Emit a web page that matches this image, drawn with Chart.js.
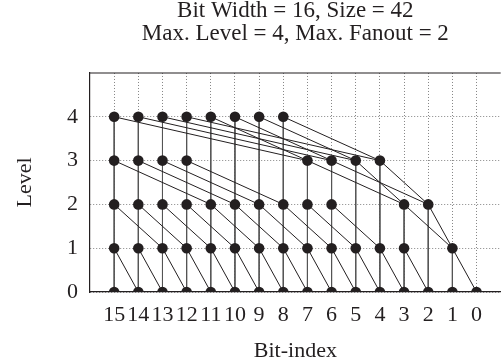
<!DOCTYPE html>
<html>
<head>
<meta charset="utf-8">
<script src="https://cdn.jsdelivr.net/npm/chart.js@4.4.1/dist/chart.umd.min.js"></script>
<style>
  html, body { margin: 0; padding: 0; background: #fff; overflow: hidden; width: 501px; height: 362px; }
  #wrap { width: 506px; height: 362px; }
</style>
</head>
<body>
<div id="wrap"><canvas id="prefixChart" width="506" height="362"></canvas></div>
<script>
const bitIndex = [15, 14, 13, 12, 11, 10, 9, 8, 7, 6, 5, 4, 3, 2, 1, 0];
const levelTicks = [0, 1, 2, 3, 4];

// bits that have a node on each level (level 0 = inputs)
const level0Bits = [15, 14, 13, 12, 11, 10, 9, 8, 7, 6, 5, 4, 3, 2, 1, 0];
const level1Bits = [15, 14, 13, 12, 11, 10, 9, 8, 7, 6, 5, 4, 3, 1];
const level2Bits = [15, 14, 13, 12, 11, 10, 9, 8, 7, 6, 3, 2];
const level3Bits = [15, 14, 13, 12, 7, 6, 5, 4];
const level4Bits = [15, 14, 13, 12, 11, 10, 9, 8];

// diagonal fan-in of each node, [bit, level], same order as the bits above
const level1From = [[14, 0], [13, 0], [12, 0], [11, 0], [10, 0], [9, 0], [8, 0], [7, 0], [6, 0], [5, 0], [4, 0], [3, 0], [2, 0], [0, 0]];
const level2From = [[13, 1], [12, 1], [11, 1], [10, 1], [9, 1], [8, 1], [7, 1], [6, 1], [5, 1], [4, 1], [1, 1], [1, 1]];
const level3From = [[11, 2], [10, 2], [9, 2], [8, 2], [3, 2], [2, 2], [3, 2], [2, 2]];
const level4From = [[7, 3], [6, 3], [5, 3], [4, 3], [7, 3], [6, 3], [5, 3], [4, 3]];

const titleLines = ["Bit Width = 16, Size = 42", "Max. Level = 4, Max. Fanout = 2"];

const levelBits = [level0Bits, level1Bits, level2Bits, level3Bits, level4Bits];
const levelFrom = [[], level1From, level2From, level3From, level4From];

const ink = "#231f20";
const serif = "'Liberation Serif', 'Times New Roman', serif";

const nodes = [];
const edgeSets = [];

levelBits.forEach((bits, level) => {
  bits.forEach((bit, i) => {
    nodes.push({ x: bit, y: level });
    if (level === 0) return;

    // vertical link down to the nearest node in the same column
    let below = level - 1;
    while (below > 0 && !levelBits[below].includes(bit)) below--;
    edgeSets.push({
      data: [{ x: bit, y: level }, { x: bit, y: below }],
      showLine: true,
      pointRadius: 0,
      borderColor: "#555555",
      borderWidth: 1,
      order: 2
    });

    const from = levelFrom[level][i];
    edgeSets.push({
      data: [{ x: bit, y: level }, { x: from[0], y: from[1] }],
      showLine: true,
      pointRadius: 0,
      borderColor: ink,
      borderWidth: 1,
      order: 1
    });
  });
});

const frameTop = {
  id: "frameTop",
  afterDraw(chart) {
    const { ctx, chartArea } = chart;
    ctx.save();
    ctx.strokeStyle = ink;
    ctx.lineWidth = 1.2;
    ctx.beginPath();
    ctx.moveTo(chartArea.left, chartArea.top);
    ctx.lineTo(chartArea.right, chartArea.top);
    ctx.stroke();
    ctx.restore();
  }
};

new Chart(document.getElementById("prefixChart"), {
  type: "scatter",
  data: {
    datasets: [
      {
        data: nodes,
        pointRadius: 5.3,
        pointHoverRadius: 5.3,
        pointBackgroundColor: ink,
        pointBorderColor: ink,
        pointBorderWidth: 0,
        order: 0
      },
      ...edgeSets
    ]
  },
  options: {
    responsive: false,
    animation: false,
    events: [],
    layout: { padding: 0 },
    plugins: {
      legend: { display: false },
      tooltip: { enabled: false },
      title: {
        display: true,
        fullSize: false,
        text: titleLines,
        color: ink,
        font: { family: serif, size: 23, weight: "normal", lineHeight: 0.98 },
        padding: { top: 0, bottom: 27.9 }
      }
    },
    scales: {
      x: {
        type: "linear",
        min: -1,
        max: 16,
        reverse: true,
        afterBuildTicks: s => { s.ticks = bitIndex.map(v => ({ value: v })); },
        afterFit: s => { s.height = 70; },
        ticks: {
          autoSkip: false,
          maxRotation: 0,
          padding: 10,
          color: ink,
          font: { family: serif, size: 22 }
        },
        grid: { color: "#858585", lineWidth: 1, drawTicks: false },
        border: { color: ink, width: 1.2, dash: [1, 2] },
        title: {
          display: true,
          text: "Bit-index",
          color: ink,
          font: { family: serif, size: 22, lineHeight: 1 },
          padding: 0
        }
      },
      y: {
        type: "linear",
        min: 0,
        max: 5,
        afterBuildTicks: s => { s.ticks = levelTicks.map(v => ({ value: v })); },
        afterFit: s => { s.width = 90; },
        ticks: {
          padding: 12,
          color: ink,
          font: { family: serif, size: 22 }
        },
        grid: { color: "#858585", lineWidth: 1, drawTicks: false },
        border: { color: ink, width: 1.2, dash: [1, 2] },
        title: {
          display: true,
          text: "Level",
          color: ink,
          font: { family: serif, size: 22, lineHeight: 1 },
          padding: { top: 14, bottom: 0 }
        }
      }
    }
  },
  plugins: [frameTop]
});
</script>
</body>
</html>
